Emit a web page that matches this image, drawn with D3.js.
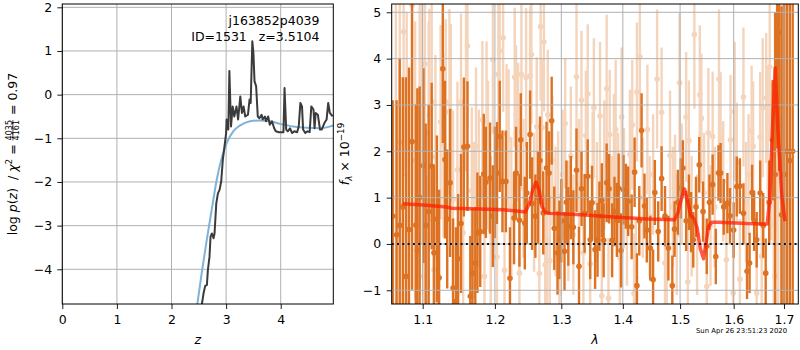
<!DOCTYPE html>
<html><head><meta charset="utf-8">
<script src="https://cdn.jsdelivr.net/npm/d3@7"></script>
<style>body{margin:0;background:#fff}svg text{font-family:"DejaVu Sans",sans-serif}</style>
</head><body><svg id="c" width="800" height="350"></svg>
<script>
// ---------- left panel: log p(z) ----------
const zTicks = [0,1,2,3,4];
const pzTicks = [2,1,0,-1,-2,-3,-4];
const zPz = [2.54,2.556,2.587,2.617,2.648,2.666,2.696,2.715,2.74,2.77,2.788,2.82,2.85,2.88,2.91,2.94,2.97,3.00,3.01,3.04,3.06,3.09,3.12,3.15,3.19,3.22,3.26,3.29,3.32,3.35,3.40,3.43,3.45,3.48,3.50,3.52,3.55,3.58,3.61,3.65,3.67,3.71,3.73,3.77,3.80,3.84,3.88,3.91,3.97,4.05,4.07,4.10,4.13,4.17,4.21,4.25,4.30,4.33,4.36,4.39,4.41,4.45,4.49,4.53,4.56,4.60,4.62,4.64,4.68,4.72,4.75,4.80,4.84,4.87,4.90,4.95];
const logPz = [-5.0,-4.80,-4.55,-4.38,-4.36,-4.02,-3.71,-3.25,-3.18,-3.29,-3.18,-2.49,-2.26,-2.18,-1.99,-1.49,-1.19,-0.88,-0.57,-0.80,0.54,-0.73,-0.27,-0.50,-0.27,-0.57,-0.04,-0.42,-0.27,-0.50,-0.46,-0.11,-0.19,1.22,0.96,0.31,0.19,-0.50,-0.54,-0.46,-0.57,-0.50,-0.61,-0.50,-0.69,-0.61,-0.77,-0.84,-0.86,-0.86,0.15,-0.80,-0.84,-0.77,-0.88,-0.84,-0.86,-0.73,-0.19,-0.27,-0.80,-0.88,-0.84,-0.86,-0.27,-0.34,-0.77,-0.42,-0.46,-0.80,-0.80,-0.65,-0.57,-0.19,-0.42,-0.50];
const zFit = [2.45,2.473,2.553,2.645,2.736,2.828,2.919,3.01,3.13,3.25,3.44,3.62,3.80,3.99,4.23,4.48,4.72,4.90,4.98];
const logPzFit = [-5.0,-4.79,-4.09,-3.33,-2.64,-1.95,-1.45,-1.11,-0.84,-0.71,-0.61,-0.59,-0.61,-0.67,-0.73,-0.76,-0.77,-0.73,-0.70];
const objName = "j163852p4039";
const objInfo = "ID=1531\u00a0\u00a0\u00a0z=3.5104";

// ---------- right panel: spectrum ----------
const lamTicks = [1.1,1.2,1.3,1.4,1.5,1.6,1.7];
const fluxTicks = [-1,0,1,2,3,4,5];
const waveA = [1.061,1.066,1.070,1.074,1.078,1.082,1.086,1.091,1.093,1.096,
 1.101,1.104,1.108,1.112,1.115,1.119,1.122,1.127,1.130,1.133,
 1.137,1.141,1.145,1.148,1.152,1.156,1.161,1.165,1.168,1.172,
 1.175,1.179,1.184,1.187,1.193,1.197,1.200,1.203,1.207,1.211,
 1.216,1.222,1.228,1.231,1.236,1.238,1.244,1.247,1.252,1.255,
 1.260,1.264,1.267,1.272,1.277,1.281,1.285,1.289,1.294,1.297,
 1.300,1.305,1.308,1.311,1.315,1.319,1.324,1.328,1.332,1.337,
 1.342,1.346,1.349,1.354,1.358,1.361,1.365,1.368,1.373,1.377,
 1.382,1.386,1.390,1.393,1.397,1.401,1.405,1.409,1.415,1.420,
 1.424,1.428,1.432,1.437,1.441,1.447,1.452,1.455,1.461,1.467,
 1.473,1.479,1.486,1.490,1.496,1.501,1.505,1.511,1.516,1.520,
 1.524,1.529,1.535,1.542,1.549,1.554,1.560,1.566,1.571,1.575,
 1.581,1.588,1.593,1.600,1.606,1.612,1.619,1.626,1.631,1.636,
 1.640,1.645,1.652,1.658,1.663,1.670,1.677,1.682,1.686,1.690,
 1.695,1.700,1.706,1.712,1.718];
const fluxA = [0.6,0.2,0.4,0.8,-0.70,0.31,2.21,0.41,-0.14,1.0,
 1.69,0.4,0.70,1.68,-0.19,0.54,-0.73,3.78,1.82,0.54,
 1.32,-0.95,-1.24,-0.32,0.44,2.09,2.11,-1.13,-0.63,-0.41,
 0.24,0.27,1.51,1.33,1.42,0.6,1.33,1.53,2.32,1.35,
 1.35,-0.74,0.56,1.53,0.51,2.25,0.45,1.1,2.36,0.87,
 0.6,1.0,1.80,0.67,1.64,1.53,2.66,0.34,-0.19,0.09,
 0.5,-0.16,0.9,0.38,1.0,0.36,1.59,-0.48,1.19,0.66,
 1.46,0.09,0.89,-0.12,0.09,0.6,0.94,0.08,1.32,1.19,
 0.08,0.70,0.52,1.2,-0.14,1.17,1.03,0.92,0.37,1.55,
 -0.90,0.5,2.45,0.82,0.3,-0.09,-0.77,1.11,0.27,1.41,
 0.6,-0.09,-0.90,0.32,0.9,1.2,1.64,0.5,0.9,0.47,
 0.09,0.8,1.71,0.7,-0.05,0.9,1.28,-0.27,1.53,1.53,
 0.8,0.88,0.61,0.3,1.24,1.25,0.66,-0.59,-0.41,1.11,
 0.5,0.09,1.10,0.4,-0.63,0.9,2.24,1.5,4.56,4.57,
 0.63,1.5,2.0,1.8,2.0];
const errA = [2.5,2.9,3.6,2.8,4.3,3.5,3.2,2.6,3.5,2.4,
 2.1,2.2,2.3,1.8,1.9,1.8,1.9,1.6,1.7,1.5,
 1.6,1.5,1.6,1.4,1.5,1.5,1.4,1.3,1.4,1.2,
 1.3,1.2,1.3,1.2,1.2,1.1,1.2,1.1,1.2,1.1,
 1.1,1.1,1.0,1.0,1.0,1.0,1.0,1.1,0.95,1.0,
 0.9,1.0,0.95,0.9,1.0,0.9,0.95,0.9,0.9,0.85,
 0.9,0.85,0.9,0.85,0.9,0.8,0.9,0.85,0.8,0.85,
 0.8,0.85,0.8,0.85,0.8,0.75,0.8,0.8,0.85,0.75,
 0.8,0.75,0.8,0.75,0.8,0.75,0.7,0.75,0.7,0.75,
 0.7,0.75,0.8,0.7,0.7,0.7,0.65,0.7,0.65,0.7,
 0.65,0.7,0.65,0.6,0.7,0.65,0.6,0.65,0.6,0.65,
 0.6,0.65,0.6,0.65,0.6,0.6,0.65,0.6,0.6,0.65,
 0.6,0.65,0.6,0.6,0.65,0.6,0.65,0.6,0.65,0.6,
 0.65,0.6,0.7,0.7,0.75,0.9,1.3,3.5,2.5,3.0,
 4.5,5.5,6.5,7.5,8.5];
const waveB = [1.065,1.070,1.075,1.079,1.086,1.090,1.096,1.099,1.101,1.103,
 1.106,1.108,1.109,1.112,1.115,1.117,1.119,1.124,1.128,1.131,
 1.136,1.138,1.141,1.147,1.152,1.155,1.159,1.161,1.167,1.170,
 1.173,1.177,1.182,1.185,1.188,1.190,1.194,1.197,1.203,1.205,
 1.207,1.212,1.214,1.217,1.220,1.224,1.229,1.231,1.234,1.236,
 1.239,1.242,1.246,1.252,1.254,1.258,1.262,1.266,1.268,1.270,
 1.273,1.275,1.278,1.279,1.282,1.286,1.291,1.295,1.297,1.302,
 1.306,1.311,1.315,1.319,1.324,1.328,1.332,1.335,1.339,1.342,
 1.346,1.350,1.352,1.357,1.362,1.365,1.369,1.373,1.376,1.378,
 1.382,1.385,1.388,1.392,1.395,1.398,1.402,1.407,1.412,1.416,
 1.419,1.422,1.424,1.429,1.434,1.442,1.446,1.452,1.459,1.467,
 1.473,1.476,1.482,1.487,1.491,1.494,1.499,1.503,1.511,1.514,
 1.516,1.521,1.526,1.531,1.536,1.539,1.544,1.549,1.552,1.556,
 1.560,1.564,1.572,1.575,1.580,1.586,1.594,1.599,1.602,1.606,
 1.612,1.619,1.624,1.629,1.635,1.638,1.645,1.652,1.655,1.657,
 1.664,1.667,1.671,1.674,1.679,1.682,1.688,1.694,1.699,1.702,1.707];
const fluxB = [1.0,2.2,4.58,1.5,5.15,1.8,2.79,2.61,-0.70,3.89,
 -0.93,2.40,2.78,3.07,-0.56,1.88,0.24,2.63,2.14,2.85,
 3.07,2.85,0.96,1.6,3.07,0.24,3.37,4.27,1.15,0.5,
 2.11,1.2,2.68,-0.70,2.67,1.92,0.3,3.98,-0.28,3.66,
 4.17,4.45,-0.57,2.38,2.27,0.8,3.60,2.79,2.41,-0.63,
 3.66,1.2,3.59,3.63,4.09,0.9,2.53,-0.64,4.69,2.51,
 4.36,-0.45,0.08,2.79,-0.36,1.8,0.7,1.03,-1.07,1.5,
 2.60,0.5,1.9,0.2,3.61,1.3,3.10,-0.19,2.34,3.24,
 -0.43,1.46,2.94,0.9,2.76,-1.12,1.7,3.35,-1.17,2.36,
 0.6,1.84,2.47,1.1,-0.30,2.74,1.2,0.4,1.93,2.57,
 -1.07,-0.73,3.28,4.04,1.0,2.47,0.6,1.5,3.56,2.84,
 -0.41,-0.70,1.91,0.8,1.06,0.2,3.48,1.3,2.74,-0.82,
 2.23,0.6,4.52,0.2,3.22,2.71,1.1,-0.92,2.40,0.4,
 2.32,0.8,3.56,2.31,1.35,-0.34,2.25,-1.06,2.86,1.75,
 -0.76,3.17,0.9,1.5,2.45,2.11,-1.06,2.31,-0.27,2.94,
 3.15,2.29,3.82,1.78,0.42,-0.70,1.0,2.0,1.78,1.53,1.0];
const errB = [4.5,3.5,3.0,3.5,3.0,3.0,2.8,2.6,2.5,2.5,
 2.4,2.4,2.3,2.3,2.2,2.2,2.1,2.1,2.0,2.0,
 2.0,1.9,1.9,1.9,1.9,1.8,1.8,1.8,1.8,1.7,
 1.7,1.7,1.7,1.7,1.7,1.6,1.6,1.6,1.6,1.6,
 1.6,1.6,1.6,1.5,1.5,1.5,1.5,1.5,1.5,1.5,
 1.5,1.5,1.5,1.5,1.5,1.5,1.5,1.5,1.6,1.5,
 1.5,1.5,1.5,1.4,1.4,1.4,1.4,1.4,1.4,1.4,
 1.4,1.3,1.5,1.3,1.6,1.4,1.5,1.3,1.4,1.5,
 1.3,1.4,1.5,1.3,1.6,1.3,1.4,1.6,1.3,1.4,
 1.3,1.4,1.5,1.3,1.3,1.5,1.3,1.3,1.4,1.4,
 1.3,1.3,1.5,1.6,1.3,1.4,1.3,1.3,1.5,1.4,
 1.3,1.3,1.4,1.3,1.3,1.3,1.5,1.3,1.4,1.3,
 1.3,1.3,1.6,1.3,1.5,1.4,1.3,1.3,1.4,1.3,
 1.4,1.3,1.5,1.4,1.3,1.3,1.4,1.3,1.5,1.3,
 1.3,1.5,1.3,1.3,1.4,1.4,1.3,1.4,1.3,1.5,
 1.4,1.5,1.6,1.7,2.0,2.5,3.0,3.5,4.0,4.5,5.0];
const modelWave = [1.074,1.101,1.132,1.139,1.179,1.212,1.232,1.245,1.251,1.256,1.261,1.266,1.270,1.275,1.283,1.332,1.386,1.442,1.490,1.496,1.502,1.508,1.513,1.519,1.525,1.531,1.537,1.543,1.547,1.552,1.558,1.571,1.626,1.666,1.671,1.677,1.682,1.688,1.695,1.702];
const modelFlux = [0.87,0.84,0.80,0.77,0.755,0.74,0.71,0.69,0.88,1.17,1.33,1.14,0.81,0.68,0.66,0.63,0.58,0.54,0.52,0.67,0.96,1.19,0.96,0.62,0.55,0.35,-0.10,-0.32,-0.05,0.36,0.47,0.47,0.44,0.43,0.96,2.61,3.80,2.40,1.10,0.49];
const stamp = "Sun Apr 26 23:51:23 2020";

// ---------- drawing ----------
const svg = d3.select('#c');
const FS = 12.5, GRID = '#b0b0b0', ORANGE = '#dd7222';
const NB = s => s.replace(/ /g,'\u00a0');
const defs = svg.append('defs');

function styleAxis(g){
  g.select('.domain').remove();
  g.selectAll('.tick line').attr('stroke','#000').attr('stroke-width',0.9);
  g.selectAll('.tick text').attr('font-size',FS).attr('fill','#000')
    .style('font-family','"DejaVu Sans",sans-serif');
}

// Left panel
const L = {x0:62.3, x1:333.3, y0:4, y1:304};
const xz = d3.scaleLinear().domain([0,4.963]).range([L.x0,L.x1]);
const yp = d3.scaleLinear().domain([-4.795,2.076]).range([L.y1,L.y0]);
defs.append('clipPath').attr('id','clipL').append('rect')
  .attr('x',L.x0).attr('y',L.y0).attr('width',L.x1-L.x0).attr('height',L.y1-L.y0);
const gl = svg.append('g');
gl.selectAll('.vg').data(zTicks).join('line').attr('x1',d=>xz(d)).attr('x2',d=>xz(d))
  .attr('y1',L.y0).attr('y2',L.y1).attr('stroke',GRID).attr('stroke-width',1);
gl.selectAll('.hg').data(pzTicks).join('line').attr('y1',d=>yp(d)).attr('y2',d=>yp(d))
  .attr('x1',L.x0).attr('x2',L.x1).attr('stroke',GRID).attr('stroke-width',1);
const lp = gl.append('g').attr('clip-path','url(#clipL)');
lp.append('path').datum(d3.zip(zFit,logPzFit))
  .attr('d',d3.line().x(d=>xz(d[0])).y(d=>yp(d[1])).curve(d3.curveMonotoneX))
  .attr('fill','none').attr('stroke','#7fb2d8').attr('stroke-width',2);
lp.append('path').datum(d3.zip(zPz,logPz))
  .attr('d',d3.line().x(d=>xz(d[0])).y(d=>yp(d[1])))
  .attr('fill','none').attr('stroke','#3b3b3b').attr('stroke-width',2).attr('stroke-linejoin','round');
svg.append('g').attr('transform',`translate(0,${L.y1})`)
  .call(d3.axisBottom(xz).tickValues(zTicks).tickSize(5).tickPadding(6).tickFormat(d3.format('d'))).call(styleAxis);
svg.append('g').attr('transform',`translate(${L.x0},0)`)
  .call(d3.axisLeft(yp).tickValues(pzTicks).tickSize(5).tickPadding(5).tickFormat(d3.format('d'))).call(styleAxis);
svg.append('rect').attr('x',L.x0).attr('y',L.y0).attr('width',L.x1-L.x0).attr('height',L.y1-L.y0)
  .attr('fill','none').attr('stroke','#000').attr('stroke-width',1);
svg.append('text').attr('x',319.5).attr('y',24.5).attr('text-anchor','end').attr('font-size',FS).text(objName);
svg.append('text').attr('x',319.5).attr('y',40.5).attr('text-anchor','end').attr('font-size',FS).text(objInfo);
svg.append('text').attr('x',(L.x0+L.x1)/2).attr('y',344).attr('text-anchor','middle')
  .attr('font-size',FS).attr('font-style','italic').text('z');

// Right panel
const R = {x0:391.7, x1:798.3, y0:4, y1:304};
const xl = d3.scaleLog().domain([1.0597,1.7296]).range([R.x0,R.x1]);
const yf = d3.scaleLinear().domain([-1.296,5.179]).range([R.y1,R.y0]);
defs.append('clipPath').attr('id','clipR').append('rect')
  .attr('x',R.x0).attr('y',R.y0).attr('width',R.x1-R.x0).attr('height',R.y1-R.y0);
const gr = svg.append('g').attr('clip-path','url(#clipR)');
function errSet(wave, flux, err, op){
  const data = d3.zip(wave, flux, err);
  const g = gr.append('g').attr('opacity',op);
  g.selectAll('line').data(data).join('line')
    .attr('x1',d=>xl(d[0])).attr('x2',d=>xl(d[0]))
    .attr('y1',d=>yf(d[1]-d[2])).attr('y2',d=>yf(d[1]+d[2]))
    .attr('stroke',ORANGE).attr('stroke-width',2.4);
  g.selectAll('circle').data(data).join('circle')
    .attr('cx',d=>xl(d[0])).attr('cy',d=>yf(d[1])).attr('r',2.8).attr('fill',ORANGE);
}
errSet(waveB, fluxB, errB, 0.3);
errSet(waveA, fluxA, errA, 1);
gr.selectAll('.vg').data(lamTicks).join('line').attr('x1',d=>xl(d)).attr('x2',d=>xl(d))
  .attr('y1',R.y0).attr('y2',R.y1).attr('stroke',GRID).attr('stroke-width',1);
gr.selectAll('.hg').data(fluxTicks).join('line').attr('y1',d=>yf(d)).attr('y2',d=>yf(d))
  .attr('x1',R.x0).attr('x2',R.x1).attr('stroke',GRID).attr('stroke-width',1);
gr.append('path').datum(d3.zip(modelWave,modelFlux))
  .attr('d',d3.line().x(d=>xl(d[0])).y(d=>yf(d[1])))
  .attr('fill','none').attr('stroke','#ff1a00').attr('stroke-opacity',0.72)
  .attr('stroke-width',3.5).attr('stroke-linejoin','round');
gr.append('line').attr('x1',R.x0).attr('x2',R.x1).attr('y1',yf(0)).attr('y2',yf(0))
  .attr('stroke','#111').attr('stroke-width',2).attr('stroke-dasharray','2,3.3');
svg.append('g').attr('transform',`translate(0,${R.y1})`)
  .call(d3.axisBottom(xl).tickValues(lamTicks).tickSize(5).tickPadding(6).tickFormat(d3.format('.1f'))).call(styleAxis);
svg.append('g').attr('transform',`translate(${R.x0},0)`)
  .call(d3.axisLeft(yf).tickValues(fluxTicks).tickSize(5).tickPadding(5.5).tickFormat(d3.format('d'))).call(styleAxis);
svg.append('rect').attr('x',R.x0).attr('y',R.y0).attr('width',R.x1-R.x0).attr('height',R.y1-R.y0)
  .attr('fill','none').attr('stroke','#000').attr('stroke-width',1);
svg.append('text').attr('x',(R.x0+R.x1)/2).attr('y',344).attr('text-anchor','middle')
  .attr('font-size',FS).attr('font-style','italic').text('λ');
svg.append('text').attr('x',696).attr('y',332.5).attr('font-size',6.9).text(stamp);

// rotated math-style labels
function mathLabel(cx, cy, pieces){
  const outer = svg.append('g').attr('transform',`translate(${cx},${cy}) rotate(-90)`);
  const g = outer.append('g');
  let x = 0;
  pieces.forEach(p=>{
    if(p.num){
      const n = g.append('text').attr('x',x).attr('y',p.ny).attr('font-size',p.size).text(p.num);
      const d = g.append('text').attr('x',x).attr('y',p.dy).attr('font-size',p.size).text(p.den);
      const w = Math.max(n.node().getComputedTextLength(), d.node().getComputedTextLength());
      n.attr('x', x + (w - n.node().getComputedTextLength())/2);
      d.attr('x', x + (w - d.node().getComputedTextLength())/2);
      g.append('line').attr('x1',x).attr('x2',x+w).attr('y1',p.by).attr('y2',p.by)
        .attr('stroke','#000').attr('stroke-width',0.7);
      x += w + 1;
    } else {
      const t = g.append('text').attr('x',x).attr('y',p.y||0).attr('font-size',p.size||FS)
        .attr('font-style',p.it?'italic':'normal').text(NB(p.t));
      x += t.node().getComputedTextLength();
    }
  });
  g.attr('transform',`translate(${-x/2},0)`);
}
mathLabel(16.5, 154, [
  {t:'log '},{t:'p',it:1},{t:'('},{t:'z',it:1},{t:')  / '},{t:'χ',it:1},
  {t:'2',size:8.8,y:-5},{t:' = '},
  {num:'4035',den:'4161',size:8,ny:-4.8,dy:2,by:-3.6},
  {t:' = 0.97'}
]);
mathLabel(348.5, 154, [
  {t:'f',it:1},{t:'λ',it:1,size:8.8,y:3},{t:' × 10'},{t:'−19',size:8.8,y:-5}
]);
</script></body></html>
